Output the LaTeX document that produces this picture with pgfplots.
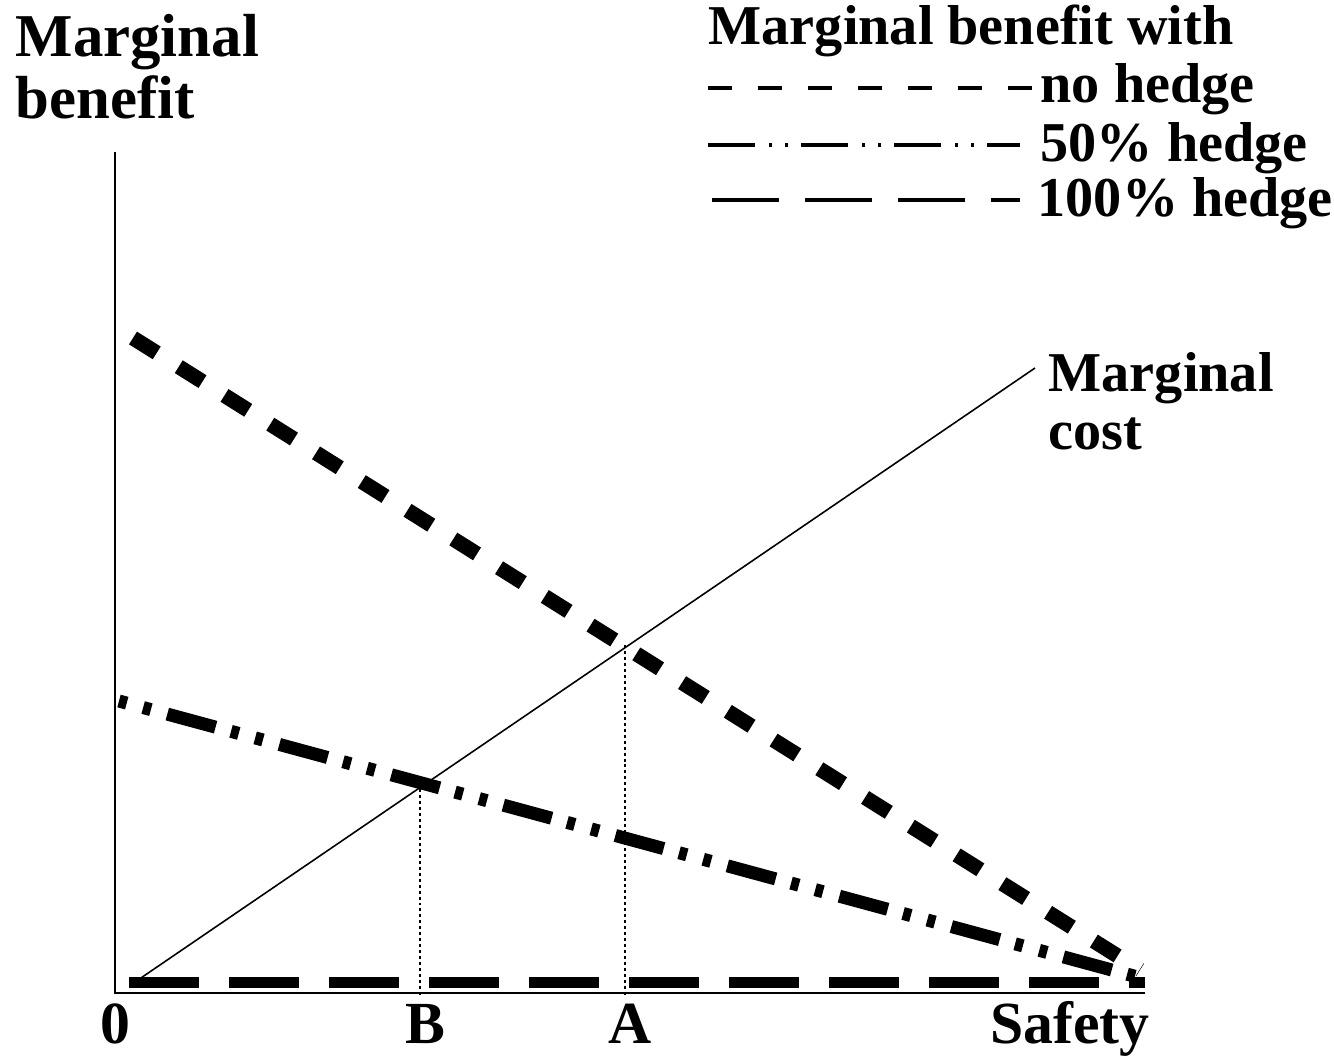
\documentclass[border=0pt]{standalone}
\usepackage{pgfplots}
\pgfplotsset{compat=1.18}
\usepackage{fontspec}
\setmainfont{Liberation Serif}
\begin{document}
\begin{tikzpicture}
\begin{axis}[hide axis, scale only axis, width=13.34cm, height=10.59cm,
  xmin=0, xmax=1334, ymin=0, ymax=1059, clip=false,
  every axis plot/.append style={no marks, black}]
\path (axis cs:0,0) rectangle (axis cs:1334,1059);
% axes
\addplot[line width=0.57pt] coordinates {(115,907) (115,66) (1145,66)};
% marginal cost
\addplot[line width=0.45pt] coordinates {(135,77) (1035,691)};
% dotted verticals
\addplot[line width=0.6pt, dash pattern=on 0.85pt off 0.85pt] coordinates {(420,276) (420,64)};
\addplot[line width=0.6pt, dash pattern=on 0.85pt off 0.85pt] coordinates {(625,414) (625,64)};
% no hedge
\addplot[line width=4.27pt, dash pattern=on 7.97pt off 7.40pt] coordinates {(133,721) (1140,89)};
% 50% hedge
\addplot[line width=3.70pt, dash pattern=on 14.23pt off 4.55pt on 2.28pt off 4.84pt on 2.28pt off 4.84pt, dash phase=18.78pt] coordinates {(119,358) (1145,80)};
% 100% hedge
\addplot[line width=3.41pt, dash pattern=on 19.92pt off 8.54pt] coordinates {(129,76.5) (1145,76.5)};
% legend samples
\addplot[line width=1pt, dash pattern=on 6.83pt off 7.40pt] coordinates {(708,971) (1032,971)};
\addplot[line width=1pt, dash pattern=on 13.37pt off 3.98pt on 0.85pt off 3.70pt on 0.85pt off 3.70pt] coordinates {(708,914) (1020,914)};
\addplot[line width=1pt, dash pattern=on 19.06pt off 7.40pt] coordinates {(712,859) (1020,859)};
% texts
\begin{scope}[every node/.style={font=\fontsize{16}{18}\selectfont\bfseries, inner sep=0pt}]
\node[anchor=base west, font=\fontsize{17.3}{19}\selectfont\bfseries] at (axis cs:15,1002) {Marginal};
\node[anchor=base west, font=\fontsize{17.3}{19}\selectfont\bfseries] at (axis cs:15,940) {benefit};
\node[anchor=base west] at (axis cs:708,1014) {Marginal benefit with};
\node[anchor=base west] at (axis cs:1040,956) {no hedge};
\node[anchor=base west] at (axis cs:1040,897) {50\% hedge};
\node[anchor=base west] at (axis cs:1037,842) {100\% hedge};
\node[anchor=base west] at (axis cs:1048,667) {Marginal};
\node[anchor=base west] at (axis cs:1048,609) {cost};
\begin{scope}[every node/.append style={font=\fontsize{17}{19}\selectfont\bfseries}]
\node[anchor=base] at (axis cs:115,16) {0};
\node[anchor=base] at (axis cs:425,16) {B};
\node[anchor=base] at (axis cs:630,16) {A};
\node[anchor=base east] at (axis cs:1150,16) {Safety};
\end{scope}
\end{scope}
\end{axis}
\end{tikzpicture}
\end{document}
